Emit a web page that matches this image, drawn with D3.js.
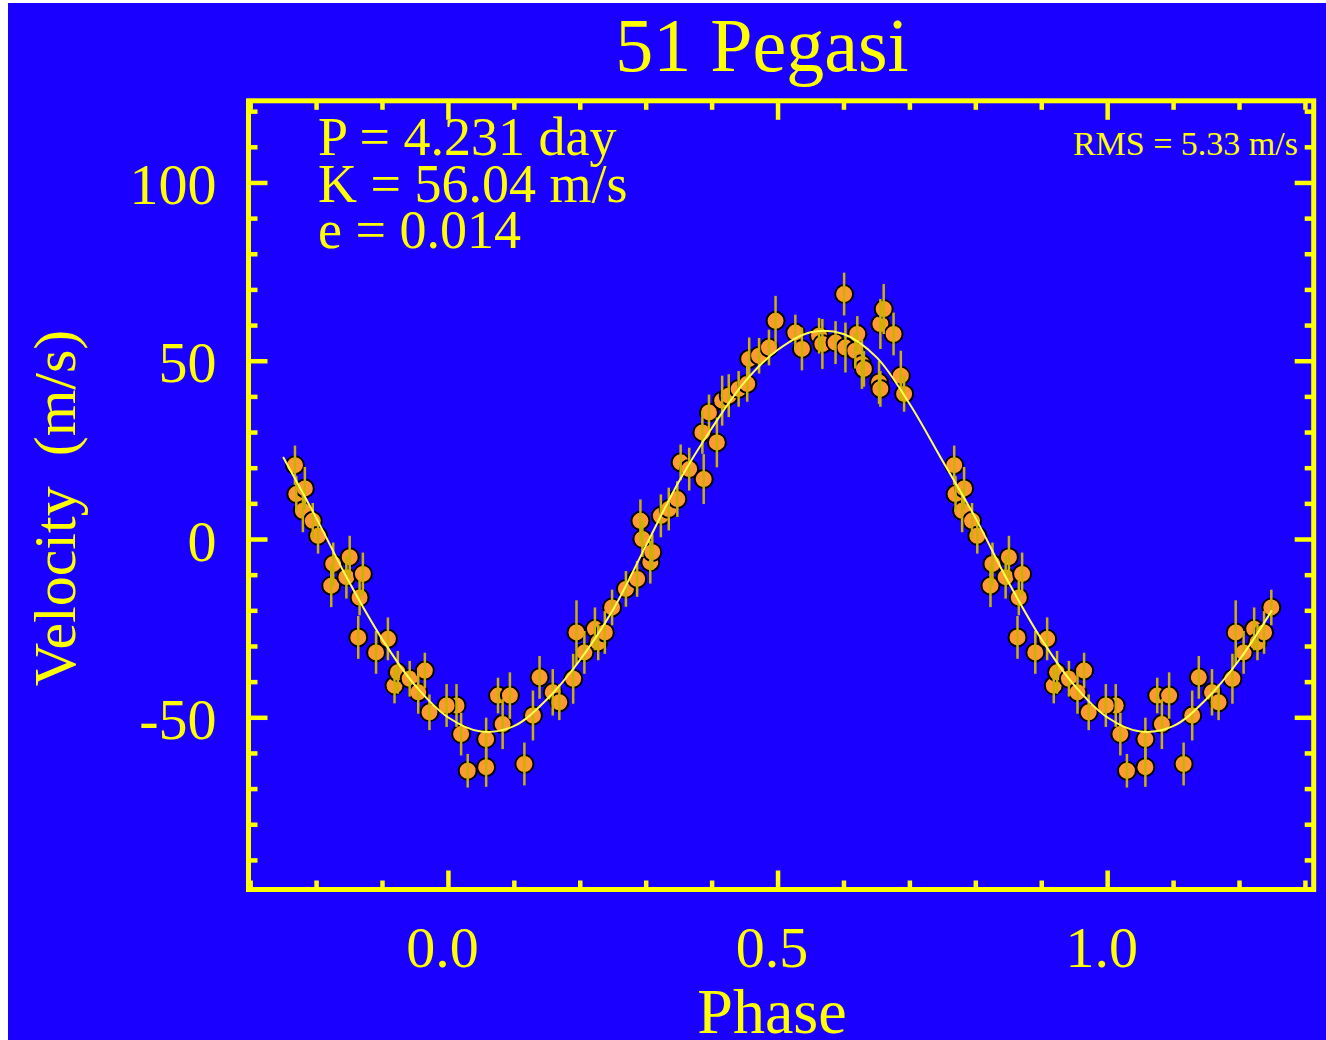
<!DOCTYPE html>
<html>
<head>
<meta charset="utf-8">
<script src="https://cdn.jsdelivr.net/npm/d3@7"></script>
<style>
  body { margin: 0; background: #ffffff; }
  text { font-family: "Liberation Serif", "Times New Roman", serif; fill: #ffff00; }
</style>
</head>
<body>
<div id="wrapper"></div>
<script>
// folded radial velocity data, phase 0..1
const phases = [
  0.013, 0.020, 0.030, 0.058, 0.058, 0.076, 0.083, 0.094, 0.116, 0.129,
  0.139, 0.159, 0.169, 0.190, 0.195, 0.207, 0.223, 0.228, 0.238, 0.249,
  0.270, 0.287, 0.292, 0.295, 0.307, 0.310, 0.323, 0.335, 0.348, 0.353,
  0.366, 0.386, 0.388, 0.396, 0.408, 0.416, 0.426, 0.441, 0.454, 0.457,
  0.472, 0.487, 0.497, 0.527, 0.537, 0.563, 0.568, 0.588, 0.601, 0.603,
  0.618, 0.621, 0.628, 0.631, 0.654, 0.656, 0.656, 0.661, 0.676, 0.687,
  0.692, 0.768, 0.770, 0.780, 0.783, 0.795, 0.803, 0.823, 0.826, 0.846,
  0.851, 0.864, 0.866, 0.871, 0.891, 0.909, 0.919, 0.924, 0.942, 0.955,
  0.965, 0.972, 0.998
];
const velocities = [
  -46.7, -54.7, -65.0, -64.0, -56.1, -43.9, -51.9, -43.9, -63.1, -49.5,
  -38.8, -43.0, -45.8, -39.2, -26.2, -31.8, -25.2, -29.0, -26.2, -19.2,
  -14.0, -11.2, 5.1, 0.0, -6.5, -3.7, 6.5, 8.4, 11.2, 21.5,
  19.6, 29.9, 16.8, 35.5, 27.1, 38.8, 40.2, 42.1, 43.5, 50.5,
  51.4, 53.7, 61.2, 57.9, 53.3, 57.0, 54.7, 55.1, 68.7, 53.7,
  52.8, 57.5, 49.1, 47.7, 43.9, 42.1, 60.3, 64.5, 57.5, 45.8,
  40.7, 20.7, 12.6, 7.9, 14.2, 5.1, 0.9, -13.1, -7.0, -10.7,
  -5.1, -27.6, -16.4, -9.8, -31.8, -28.0, -41.1, -37.4, -39.2, -43.0,
  -36.9, -48.6, -46.7
];
const errors = [
  6, 6, 4.7, 5.5, 6, 5, 7, 6.5, 6, 7,
  6, 6.5, 5, 7, 9, 6, 6, 5, 6, 5,
  5, 5, 6, 5, 6, 5, 6, 6, 5, 5,
  6, 6, 7, 5, 7, 7, 6, 5, 5, 6,
  5, 5, 7, 5, 6, 5, 7, 6, 6, 7,
  5, 5, 7, 5, 6, 5, 7, 7, 6, 7,
  5, 5.5, 5, 6, 6, 5, 5, 6, 6, 6,
  6, 6, 5, 6, 6, 6, 5, 6, 5, 6,
  5, 5, 6
];

// orbit fit curve
const fitPhases = [
  -0.25, -0.20, -0.15, -0.10, -0.05, 0.00, 0.05, 0.10, 0.15, 0.20,
  0.25, 0.30, 0.35, 0.40, 0.45, 0.50, 0.55, 0.60, 0.65, 0.70,
  0.75, 0.80, 0.85, 0.90, 0.95, 1.00, 1.05, 1.10, 1.15, 1.20, 1.25
];
const fitVelocities = [
  23, 6, -12, -28, -41, -50, -54, -52.5, -45, -34,
  -20, -2, 16, 31, 44, 53, 58, 57.5, 51, 38,
  22, 6, -12, -28, -41, -50, -54, -52.5, -45, -34, -20
];

const xMajorTicks = [0.0, 0.5, 1.0];
const xMinorTicks = [-0.3, -0.2, -0.1, 0.1, 0.2, 0.3, 0.4, 0.6, 0.7, 0.8, 0.9, 1.1, 1.2, 1.3];
const yMajorTicks = [-50, 0, 50, 100];
const yMinorTicks = [-90, -80, -70, -60, -40, -30, -20, -10, 10, 20, 30, 40, 60, 70, 80, 90, 110, 120];

const infoLines = ["P = 4.231 day", "K = 56.04 m/s", "e = 0.014"];

function drawChart() {
    const dimensions = {
        width: 1326,
        height: 1040,
        margin: { top: 100.8, right: 12.3, bottom: 150.5, left: 248.5 },
    };
    dimensions.boundedWidth = dimensions.width - dimensions.margin.left - dimensions.margin.right;
    dimensions.boundedHeight = dimensions.height - dimensions.margin.top - dimensions.margin.bottom;

    const yellow = "#ffff00";

    const wrapper = d3.select("#wrapper")
        .html("")
        .append("svg")
        .attr("width", dimensions.width)
        .attr("height", dimensions.height);

    // blue page (thin white strip left and top as in the picture)
    wrapper.append("rect")
        .attr("x", 8).attr("y", 3)
        .attr("width", dimensions.width - 8)
        .attr("height", dimensions.height - 3)
        .attr("fill", "#1a00ff");

    const bounds = wrapper.append("g")
        .attr("transform", `translate(${dimensions.margin.left},${dimensions.margin.top})`);

    const xScaler = d3.scaleLinear()
        .domain([-0.3025, 1.3133])
        .range([0, dimensions.boundedWidth]);
    const yScaler = d3.scaleLinear()
        .domain([-98.3, 122.9])
        .range([dimensions.boundedHeight, 0]);

    // data, with the wrapped copies either side of 0..1
    const points = [];
    phases.forEach((p, i) => {
        const d = { p: p, v: velocities[i], e: errors[i] };
        points.push(d);
        if (p - 1 >= -0.25) points.push({ ...d, p: p - 1 });
        if (p + 1 <= 1.25) points.push({ ...d, p: p + 1 });
    });

    bounds.append("g")
        .selectAll("circle")
        .data(points)
        .enter()
        .append("circle")
        .attr("cx", d => xScaler(d.p))
        .attr("cy", d => yScaler(d.v))
        .attr("r", 9)
        .attr("fill", "#ff9933")
        .attr("stroke", "#000")
        .attr("stroke-width", 2);

    bounds.append("g")
        .selectAll("line")
        .data(points)
        .enter()
        .append("line")
        .attr("x1", d => xScaler(d.p))
        .attr("x2", d => xScaler(d.p))
        .attr("y1", d => yScaler(d.v - d.e))
        .attr("y2", d => yScaler(d.v + d.e))
        .attr("stroke", "#c8b400")
        .attr("stroke-width", 2.5);

    const fit = fitPhases.map((p, i) => [p, fitVelocities[i]]);
    bounds.append("path")
        .datum(fit)
        .attr("fill", "none")
        .attr("stroke", "#ffff50")
        .attr("stroke-width", 2)
        .attr("d", d3.line()
            .x(d => xScaler(d[0]))
            .y(d => yScaler(d[1]))
            .curve(d3.curveCatmullRom));

    // ticks on all four sides, pointing inwards
    const tickSets = [
        { gen: d3.axisBottom, scale: xScaler, at: `translate(0,${dimensions.boundedHeight})` },
        { gen: d3.axisTop, scale: xScaler, at: "translate(0,0)" },
        { gen: d3.axisLeft, scale: yScaler, at: "translate(0,0)" },
        { gen: d3.axisRight, scale: yScaler, at: `translate(${dimensions.boundedWidth},0)` },
    ];
    tickSets.forEach(t => {
        const isX = t.scale === xScaler;
        [[isX ? xMinorTicks : yMinorTicks, -9], [isX ? xMajorTicks : yMajorTicks, -19]].forEach(([vals, size]) => {
            const g = bounds.append("g")
                .attr("transform", t.at)
                .call(t.gen(t.scale).tickValues(vals).tickSize(size).tickFormat(""));
            g.select(".domain").remove();
            g.selectAll("line").attr("stroke", yellow).attr("stroke-width", 4.5);
        });
    });

    bounds.append("rect")
        .attr("width", dimensions.boundedWidth)
        .attr("height", dimensions.boundedHeight)
        .attr("fill", "none")
        .attr("stroke", yellow)
        .attr("stroke-width", 5);

    // tick labels
    const xLabels = bounds.append("g")
        .attr("transform", `translate(0,${dimensions.boundedHeight})`)
        .call(d3.axisBottom(xScaler).tickValues(xMajorTicks).tickSize(0).tickFormat(d3.format(".1f")));
    xLabels.select(".domain").remove();
    xLabels.selectAll("text")
        .attr("x", -6)
        .attr("y", 77)
        .attr("dy", null)
        .attr("fill", yellow)
        .attr("font-size", "58px")
        .attr("font-family", "Liberation Serif");

    const yLabels = bounds.append("g")
        .call(d3.axisLeft(yScaler).tickValues(yMajorTicks).tickSize(0).tickFormat(d => `${d}`));
    yLabels.select(".domain").remove();
    yLabels.selectAll("text")
        .attr("x", -32)
        .attr("dy", 21)
        .attr("fill", yellow)
        .attr("font-size", "58px")
        .attr("font-family", "Liberation Serif");

    // titles
    wrapper.append("text")
        .attr("x", 762)
        .attr("y", 71)
        .attr("text-anchor", "middle")
        .attr("font-size", "76px")
        .text("51 Pegasi");

    wrapper.append("text")
        .attr("x", 772)
        .attr("y", 1033)
        .attr("text-anchor", "middle")
        .attr("font-size", "64px")
        .text("Phase");

    wrapper.append("text")
        .attr("transform", "translate(75,508) rotate(-90)")
        .attr("text-anchor", "middle")
        .attr("font-size", "60px")
        .attr("xml:space", "preserve")
        .text("Velocity  (m/s)");

    wrapper.append("g")
        .selectAll("text")
        .data(infoLines)
        .enter()
        .append("text")
        .attr("x", 318)
        .attr("y", (d, i) => 155 + i * 46.5)
        .attr("font-size", "54px")
        .text(d => d);

    wrapper.append("text")
        .attr("x", 1298)
        .attr("y", 155)
        .attr("text-anchor", "end")
        .attr("font-size", "34px")
        .text("RMS = 5.33 m/s");
}

drawChart();
</script>
</body>
</html>
